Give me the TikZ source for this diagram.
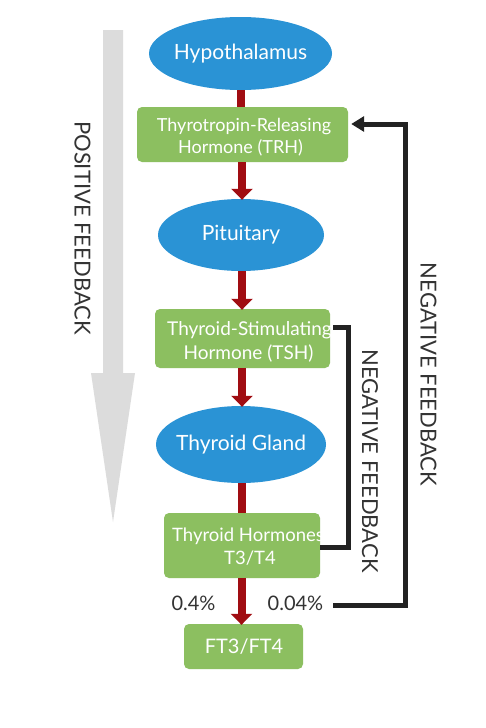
\documentclass[tikz,border=0pt]{standalone}
\usepackage{fontspec}
\setmainfont{Lato}
\usetikzlibrary{shapes.geometric,arrows.meta}
\definecolor{ellblue}{HTML}{2A93D5}
\definecolor{boxgreen}{HTML}{8CBF60}
\definecolor{arrred}{HTML}{A00D12}
\definecolor{fbblack}{HTML}{222222}
\definecolor{txtgray}{HTML}{333333}
\definecolor{posgray}{HTML}{DCDCDC}
\tikzset{
  organ/.style={ellipse, fill=ellblue, draw=none, inner sep=0pt},
  hormone/.style={rectangle, rounded corners=5pt, fill=boxgreen, draw=none, inner sep=0pt},
  lab/.style={text=white, inner sep=0pt, align=center},
  biglab/.style={text=white, font=\fontsize{21}{25}\selectfont},
  redflow/.style={draw=arrred, line width=8pt},
  redarrow/.style={redflow, -{Triangle[width=21pt,length=11pt]}},
  feedback/.style={draw=fbblack, line width=5pt},
  sidetext/.style={text=txtgray, font=\fontsize{22}{26}\selectfont, rotate=-90},
  pct/.style={text=txtgray, font=\fontsize{20}{24}\selectfont}
}
\begin{document}
\begin{tikzpicture}[x=1pt,y=-1pt]
\useasboundingbox[fill=white] (0,0) rectangle (485,728);
% positive feedback arrow
\fill[posgray] (103,30) -- (123,30) -- (123,373) -- (135,373) -- (113,522) -- (91,373) -- (103,373) -- cycle;
\node[sidetext] (pos) at (82.5,228) {POSITIVE FEEDBACK};
% nodes
\node[organ, minimum width=183pt, minimum height=73pt, label={[biglab]center:Hypothalamus}] (hyp) at (240.5,53.5) {};
\node[hormone, minimum width=211pt, minimum height=55pt] (trh) at (242.5,134.5) {};
\node[organ, minimum width=166pt, minimum height=72pt, label={[biglab]center:Pituitary}] (pit) at (241,235) {};
\node[hormone, minimum width=175pt, minimum height=59pt] (tsh) at (242.5,338.5) {};
\node[organ, minimum width=170pt, minimum height=77pt, label={[biglab]center:Thyroid Gland}] (tg) at (241,444.5) {};
\node[hormone, minimum width=156pt, minimum height=65pt] (th) at (242,545.5) {};
\node[hormone, minimum width=119pt, minimum height=45pt] (ft) at (243.5,646.5) {};
% red flow arrows
\draw[redflow] (hyp.south) -- (trh.north -| hyp.south);
\draw[redarrow] (trh.south -| 242,0) -- ([yshift=-1pt]pit.north -| 242,0);
\draw[redarrow] (pit.south -| 242,0) -- ([yshift=-1pt]tsh.north -| 242,0);
\draw[redarrow] (tsh.south -| 242,0) -- ([yshift=-1pt]tg.north -| 242,0);
\draw[redflow] (tg.south -| 241.5,0) -- (th.north -| 241.5,0);
\draw[redarrow] (th.south -| 241.5,0) -- ([yshift=-1pt]ft.north -| 241.5,0);
% box texts
\node[lab, anchor=base, font=\fontsize{18}{22}\selectfont] (trht1) at (244,131) {Thyrotropin-Releasing};
\node[lab, anchor=base, font=\fontsize{18}{22}\selectfont] (trht2) at (240.5,153) {Hormone (TRH)};
\node[lab, anchor=base west, font=\fontsize{19}{23}\selectfont] (tsht1) at (167,335.5) {Thyroid-Stimulating};
\node[lab, anchor=base, font=\fontsize{19}{23}\selectfont] (tsht2) at (248.5,359.5) {Hormone (TSH)};
\node[lab, anchor=base west, font=\fontsize{18.5}{22}\selectfont] (tht1) at (172,541) {Thyroid Hormones};
\node[lab, anchor=base, font=\fontsize{18.5}{22}\selectfont] (tht2) at (250,564) {T3/T4};
\node[lab, font=\fontsize{20}{24}\selectfont] (ftt) at (244,646.5) {FT3/FT4};
% percent labels
\node[pct] (p1) at (193.5,603.5) {0.4\%};
\node[pct] (p2) at (295.5,603.5) {0.04\%};
% feedback lines
\coordinate (a1) at (333,327);
\draw[feedback] (a1) -- (348,327) |- (th.east |- 0,547);
\draw[feedback, -{Triangle[width=15pt,length=13pt]}] (333,605) -- (405,605) |- ([xshift=3pt]trh.east |- 0,124);
\node[sidetext] (nf1) at (370,461) {NEGATIVE FEEDBACK};
\node[sidetext] (nf2) at (428.5,374.5) {NEGATIVE FEEDBACK};
\end{tikzpicture}
\end{document}
